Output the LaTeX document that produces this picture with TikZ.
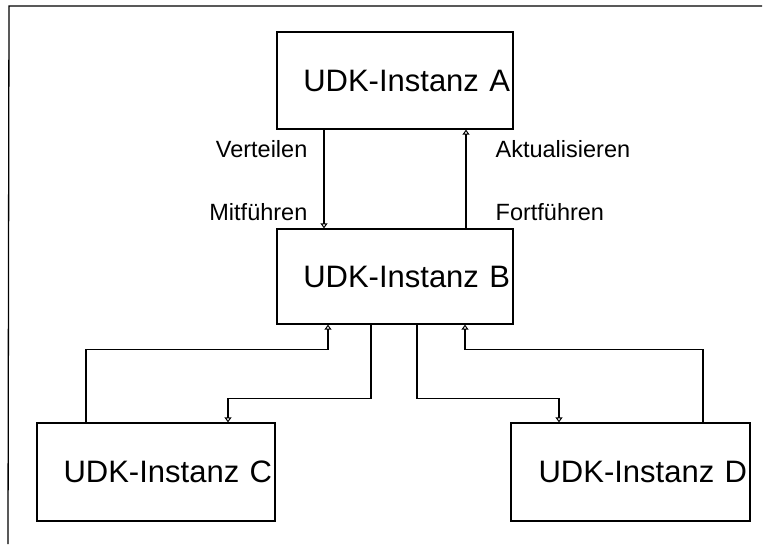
\documentclass[tikz,border=0pt]{standalone}
\usepackage{fontspec}
\setmainfont{Liberation Sans}
\usetikzlibrary{arrows.meta}
\begin{document}
\begin{tikzpicture}[x=1pt,y=-1pt,line width=1.3pt,
  box/.style={draw,inner sep=3pt,align=right,font=\fontsize{31}{35}\selectfont},
  lbl/.style={inner sep=0pt,font=\fontsize{23.5}{27}\selectfont},
  arr/.style={-{Triangle[open,length=5pt,width=7pt,line width=1pt]}}]
  \useasboundingbox (0,0) rectangle (769,544);
  % frame (top and left edges)
  \coordinate (ftr) at (762,6);
  \coordinate (ftl) at (9,6);
  \coordinate (fbl) at (8,544);
  \draw (ftr) -- (ftl) -- (fbl);
  % instances
  \node[box,text width=230pt,minimum height=97pt] (A) at (395,80.5) {UDK-Instanz A};
  \node[box,text width=230pt,minimum height=95pt] (B) at (395,276.5) {UDK-Instanz B};
  \node[box,text width=232pt,minimum height=98pt] (C) at (156,472) {UDK-Instanz C};
  \node[box,text width=233pt,minimum height=98pt] (D) at (630.5,472) {UDK-Instanz D};
  % A <-> B
  \draw[arr] ([xshift=-71pt]A.south) -- ([xshift=-71pt]B.north);
  \draw[arr] ([xshift=71pt]B.north) -- ([xshift=71pt]A.south);
  % B <-> C
  \draw[arr] ([xshift=-70pt]C.north) -- ++(0,-73) -| ([xshift=-67pt]B.south);
  \draw[arr] ([xshift=-24pt]B.south) -- ++(0,74) -| ([xshift=72pt]C.north);
  % B <-> D
  \draw[arr] ([xshift=22pt]B.south) -- ++(0,74) -| ([xshift=-71.5pt]D.north);
  \draw[arr] ([xshift=72.5pt]D.north) -- ++(0,-73) -| ([xshift=70pt]B.south);
  % labels
  \node[lbl,anchor=east] (l1) at (308,149) {Verteilen};
  \node[lbl,anchor=east] (l2) at (308,212) {Mitführen};
  \node[lbl,anchor=west] (l3) at (495,149) {Aktualisieren};
  \node[lbl,anchor=west] (l4) at (495,212) {Fortführen};
\end{tikzpicture}
\end{document}
